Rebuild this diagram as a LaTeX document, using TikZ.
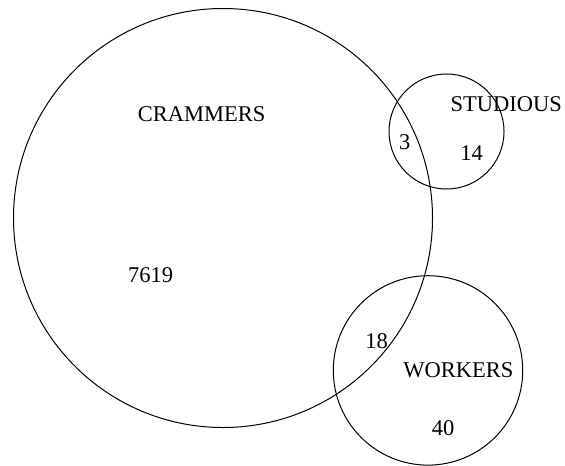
\documentclass[tikz,border=0pt]{standalone}
\usepackage{fontspec}
\setmainfont{Liberation Serif}
\usepackage{tikz}
\usetikzlibrary{positioning}

\begin{document}
\begin{tikzpicture}[x = 0.5pt, y = -0.5pt,
  set/.style = {draw, shape = circle, inner sep = 0pt, line width = 0.5pt},
  lbl/.style = {font = \fontsize{11.25}{13}\selectfont, inner sep = 0pt}]
\useasboundingbox (0,0) rectangle (565,465);
% the three sets
\node[set, minimum size = 209.5pt] (crammers) at (223,218) {};
\node[set, minimum size = 57.5pt] (studious) at (446.5,131.5) {};
\node[set, minimum size = 94.7pt] (workers) at (428,370.4) {};
% names
\node[lbl] (crammersname) at (201.7,114.5) {CRAMMERS};
\node[lbl] (studiousname) at (506.3,104.5) {STUDIOUS};
\node[lbl] (workersname) at (458.3,370.5) {WORKERS};
% counts
\node[lbl] (ncrammers) at (150.5,275.5) {7619};
\node[lbl] (ncs) at (404.7,142.2) {3};
\node[lbl] (nstudious) at (471.7,152.8) {14};
\node[lbl] (ncw) at (376.7,341.5) {18};
\node[lbl] (nworkers) at (443,428.3) {40};
\end{tikzpicture}
\end{document}
